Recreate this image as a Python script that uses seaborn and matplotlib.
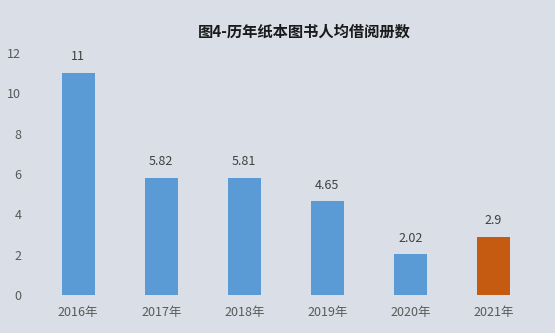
import matplotlib
matplotlib.use("Agg")
import matplotlib.pyplot as plt
import seaborn as sns
import pandas as pd

years = ["2016年", "2017年", "2018年", "2019年", "2020年", "2021年"]
values = [11, 5.82, 5.81, 4.65, 2.02, 2.9]
labels = ["11", "5.82", "5.81", "4.65", "2.02", "2.9"]
colors = ["#5B9BD5", "#5B9BD5", "#5B9BD5", "#5B9BD5", "#5B9BD5", "#C55A11"]
title = "图4-历年纸本图书人均借阅册数"

sns.set_theme(style="white")
plt.rcParams['font.family'] = ['Noto Sans CJK SC', 'DejaVu Sans']

bg = "#D9DEE7"
df = pd.DataFrame({"year": years, "value": values})

fig = plt.figure(figsize=(5.55, 3.33), dpi=100, facecolor=bg)
ax = fig.add_axes([0.066, 0.114, 0.898, 0.727])
ax.set_facecolor(bg)
sns.barplot(data=df, x="year", y="value", hue="year", palette=colors,
            legend=False, width=0.4, ax=ax, saturation=1,
            edgecolor="none", linewidth=0)
ax.set_ylim(0, 12)
ax.set_yticks(range(0, 13, 2))
ax.set_xlabel("")
ax.set_ylabel("")
for s in ax.spines.values():
    s.set_visible(False)
ax.tick_params(axis="both", length=0, colors="#595959", labelsize=9)
ax.tick_params(axis="y", pad=11)
ax.tick_params(axis="x", pad=8)
for c, lab in zip(ax.containers, [[l] for l in labels]):
    ax.bar_label(c, labels=lab, padding=7, color="#404040", fontsize=9)

fig.text(0.548, 0.905, title, ha="center", va="center", fontsize=11,
         fontweight="bold", color="#1a1a1a")
fig.savefig("out.png", dpi=100, facecolor=bg)
